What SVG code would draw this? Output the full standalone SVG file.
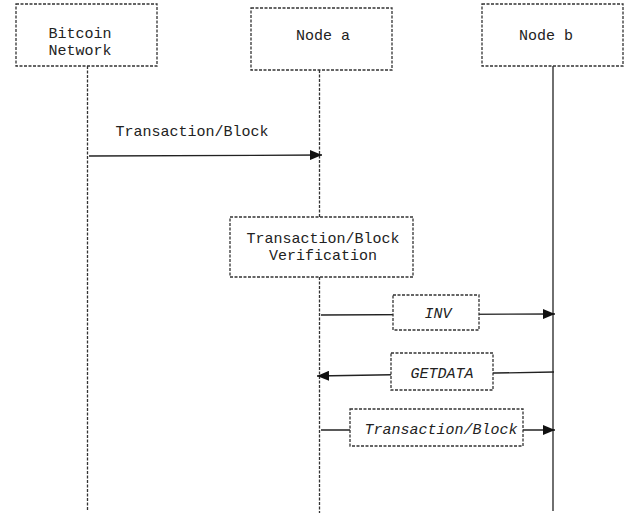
<svg xmlns="http://www.w3.org/2000/svg" width="629" height="515" viewBox="0 0 629 515">
<style>
.box{fill:#fff;stroke:#333;stroke-width:1.3;stroke-dasharray:3 1.5}
.life{fill:none;stroke:#333;stroke-width:1.3;stroke-dasharray:3 1.5}
.solid{fill:none;stroke:#333;stroke-width:1.4}
.msg{fill:none;stroke:#222;stroke-width:1.3}
text{font-family:"Liberation Mono","DejaVu Sans Mono",monospace;font-size:15px;fill:#222;text-anchor:middle}
.it{font-style:italic}
</style>
<defs>
<marker id="ah" markerWidth="12" markerHeight="10" refX="12" refY="5" orient="auto" markerUnits="userSpaceOnUse">
<path d="M0,0 L12,5 L0,10 Z" fill="#111"/>
</marker>
</defs>
<g id="lifelines">
<line class="life" x1="87.5" y1="66" x2="87.5" y2="511"/>
<line class="life" x1="319.5" y1="70" x2="319.5" y2="513"/>
<line class="solid" x1="553" y1="66" x2="553" y2="511"/>
</g>
<g id="connectors">
<line class="msg" x1="89" y1="156" x2="322" y2="155" marker-end="url(#ah)"/>
<line class="msg" x1="321" y1="315" x2="555" y2="314" marker-end="url(#ah)"/>
<line class="msg" x1="554" y1="372" x2="317" y2="376" marker-end="url(#ah)"/>
<line class="msg" x1="321" y1="430" x2="555" y2="430" marker-end="url(#ah)"/>
</g>
<g id="bitcoin-network">
<rect class="box" x="16" y="4" width="141" height="62"/>
<text x="80" y="38">Bitcoin</text>
<text x="80" y="55">Network</text>
</g>
<g id="node-a">
<rect class="box" x="251" y="8" width="141" height="62"/>
<text x="323" y="40">Node a</text>
</g>
<g id="node-b">
<rect class="box" x="482" y="4" width="141" height="62"/>
<text x="546" y="40">Node b</text>
</g>
<g id="label-tx">
<text x="192" y="136">Transaction/Block</text>
</g>
<g id="verification">
<rect class="box" x="230" y="217" width="183" height="60"/>
<text x="323" y="243">Transaction/Block</text>
<text x="323" y="260">Verification</text>
</g>
<g id="inv">
<rect class="box" x="393" y="295" width="86" height="35"/>
<text class="it" x="438" y="318">INV</text>
</g>
<g id="getdata">
<rect class="box" x="391" y="353" width="102" height="37"/>
<text class="it" x="442" y="378">GETDATA</text>
</g>
<g id="tx-block-msg">
<rect class="box" x="350" y="409" width="173" height="37"/>
<text class="it" x="441" y="434">Transaction/Block</text>
</g>
</svg>
